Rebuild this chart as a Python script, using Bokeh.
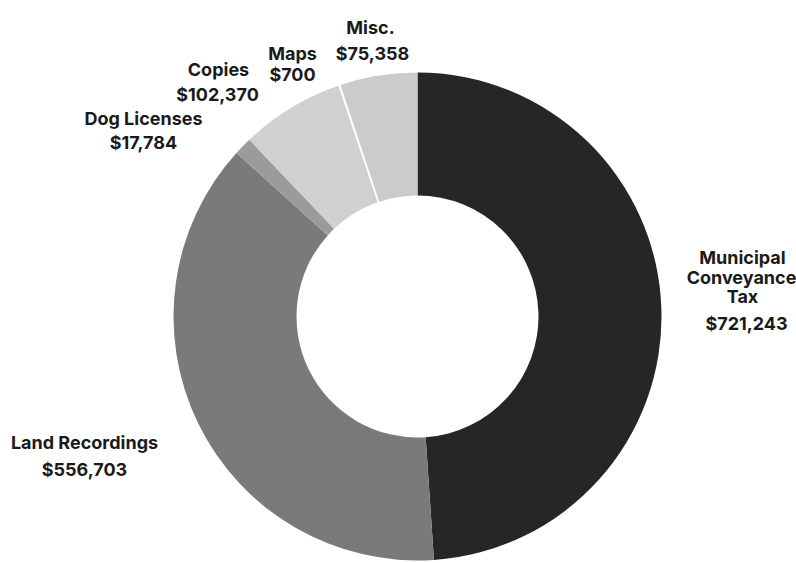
import numpy as np
from bokeh.plotting import figure
from bokeh.models import Range1d, ColumnDataSource
from bokeh.core.properties import value
from bokeh.embed import file_html
from bokeh.resources import INLINE

categories = ["Municipal Conveyance Tax", "Land Recordings", "Dog Licenses", "Copies", "Maps", "Misc."]
amounts = [721243, 556703, 17784, 102370, 700, 75358]
colors = ["#262626", "#7a7a7a", "#9b9b9b", "#d0d0d0", "#f4f4f4", "#cbcbcb"]

# label lines: (text, x centre, screen baseline y)
label_lines = [
    ("Municipal", 742, 257), ("Conveyance", 741, 277), ("Tax", 742, 296), ("$721,243", 746, 323),
    ("Land Recordings", 84, 442), ("$556,703", 84, 469),
    ("Dog Licenses", 143, 118), ("$17,784", 143, 142),
    ("Copies", 218, 69), ("$102,370", 217, 94),
    ("Maps", 292, 53), ("$700", 292, 74),
    ("Misc.", 370, 27), ("$75,358", 372, 53),
]

W, H = 796, 563
p = figure(width=W, height=H, output_backend="svg", toolbar_location=None,
           x_range=Range1d(0, W), y_range=Range1d(0, H),
           min_border=0)
p.axis.visible = False
p.grid.visible = False
p.outline_line_color = None
p.background_fill_color = "white"
p.border_fill_color = "white"

vals = np.array(amounts, dtype=float)
frac = vals / vals.sum()
cum = np.concatenate([[0], np.cumsum(frac)])
start = np.pi / 2 - 2 * np.pi * cum[:-1]
end = np.pi / 2 - 2 * np.pi * cum[1:]

cx, cy = 417, H - 316
for i in range(len(categories)):
    is_maps = categories[i] == "Maps"
    p.annular_wedge(x=cx, y=cy, inner_radius=121, outer_radius=244,
                    start_angle=start[i], end_angle=end[i], direction="clock",
                    fill_color=colors[i],
                    line_color="white" if is_maps else None,
                    line_width=3 if is_maps else 0)

tsrc = ColumnDataSource(dict(text=[t[0] for t in label_lines],
                             x=[t[1] for t in label_lines],
                             y=[H - t[2] for t in label_lines]))
p.text(x="x", y="y", text="text", source=tsrc, text_align="center",
       text_baseline="alphabetic", text_font=value("Inter"),
       text_font_style="bold", text_font_size="18px", text_color="#1a1a1a")

open("out.html", "w").write(file_html(p, INLINE))
